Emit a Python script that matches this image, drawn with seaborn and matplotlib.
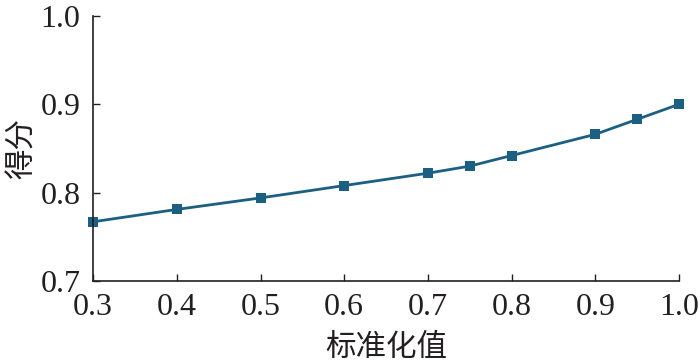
import matplotlib
matplotlib.use("Agg")
import matplotlib.pyplot as plt
import seaborn as sns
import pandas as pd

x_values = [0.3, 0.4, 0.5, 0.6, 0.7, 0.75, 0.8, 0.9, 0.95, 1.0]
scores = [0.767, 0.781, 0.794, 0.808, 0.822, 0.830, 0.842, 0.866, 0.883, 0.900]
x_ticks = [0.3, 0.4, 0.5, 0.6, 0.7, 0.8, 0.9, 1.0]
y_ticks = [0.7, 0.8, 0.9, 1.0]

sns.set_style("ticks")
plt.rcParams['font.family'] = ['Liberation Serif', 'Noto Sans CJK SC', 'DejaVu Sans']

df = pd.DataFrame({"x": x_values, "y": scores})

fig = plt.figure(figsize=(7, 3.63), dpi=100)
ax = fig.add_axes([0.133, 0.226, 0.837, 0.730])
color = "#1b5f82"
sns.lineplot(data=df, x="x", y="y", ax=ax, color=color, linewidth=2,
             marker="s", markersize=7, markeredgewidth=0)
for line in ax.get_lines():
    line.set_clip_on(False)

ax.set_xlim(0.3, 1.0)
ax.set_ylim(0.7, 1.0)
ax.set_xticks(x_ticks)
ax.set_yticks(y_ticks)
ax.set_xticklabels([f"{v:.1f}" for v in x_ticks])
ax.set_yticklabels([f"{v:.1f}" for v in y_ticks])
ax.tick_params(direction="in", length=5, width=1, labelsize=23, colors="#231f20")
ax.tick_params(axis="x", pad=9)
ax.tick_params(axis="y", pad=9)
for s in ["top", "right"]:
    ax.spines[s].set_visible(False)
for s in ["left", "bottom"]:
    ax.spines[s].set_linewidth(1.2)
    ax.spines[s].set_color("#231f20")
ax.set_xlabel("标准化值", fontsize=22, family=['Noto Sans CJK SC'], labelpad=7, color="#231f20")
ax.set_ylabel("得分", fontsize=22, family=['Noto Sans CJK SC'], labelpad=2, color="#231f20")

fig.savefig("out.png", dpi=100)
